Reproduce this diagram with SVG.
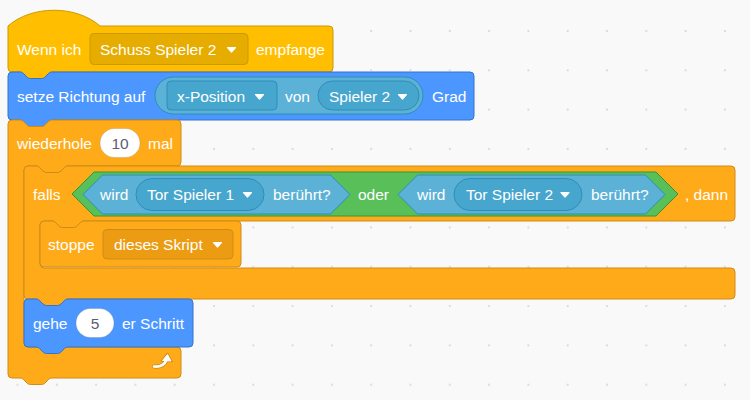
<svg xmlns="http://www.w3.org/2000/svg" width="750" height="400" viewBox="0 0 750 400">
<defs>
<pattern id="grid" x="16.5" y="30" width="39.3" height="39.3" patternUnits="userSpaceOnUse"><rect x="0" y="0" width="2" height="2" fill="#dcdcdc"/></pattern>
<style>
.t{font-family:"Liberation Sans",Arial,Helvetica,sans-serif;font-size:15.5px;fill:#ffffff}
.n{font-family:"Liberation Sans",Arial,Helvetica,sans-serif;font-size:15.5px;fill:#575E75;text-anchor:middle}
.ev{fill:#FFBF00;stroke:#CC9900;stroke-width:1}
.evf{fill:#E6AC00;stroke:#CC9900;stroke-width:1}
.mo{fill:#4C97FF;stroke:#3373CC;stroke-width:1}
.co{fill:#FFAB19;stroke:#CF8B17;stroke-width:1}
.cof{fill:#EC9C13;stroke:#CF8B17;stroke-width:1}
.se{fill:#5CB1D6;stroke:#2E8EB8;stroke-width:1}
.sef{fill:#47A6CE;stroke:#2E8EB8;stroke-width:1}
.op{fill:#59C059;stroke:#389438;stroke-width:1}
.num{fill:#ffffff;stroke:rgba(0,0,0,0.12);stroke-width:1}
.arr{fill:#ffffff;stroke:#ffffff;stroke-width:1.2;stroke-linejoin:round}
</style>
</defs>
<rect width="750" height="400" fill="#F9F9F9"/>
<rect width="750" height="400" fill="url(#grid)"/>
<g id="connectors"></g>

<g id="hat-wenn-ich">
<path class="ev" d="M 8,26 c 24,-21 68,-21 92,0 H 329 a 4,4 0 0 1 4,4 V 68 a 4,4 0 0 1 -4,4 H 52 c -2,0 -3,1 -4,2 l -3,3 c -1,1 -2,1.5 -3.5,1.5 h -11 c -1.5,0 -2.5,-0.5 -3.5,-1.5 l -3,-3 c -1,-1 -2,-2 -4,-2 H 12 a 4,4 0 0 1 -4,-4 Z"/>
<text class="t" x="17" y="54.5">Wenn ich</text>
<rect class="evf" x="90" y="33.5" width="158" height="31" rx="4"/>
<text class="t" x="100" y="54.5">Schuss Spieler 2</text>
<path class="arr" d="M 227.5,47.5 h 8 l -4,4.5 z"/>
<text class="t" x="256" y="54.5">empfange</text>
</g>

<g id="setze-richtung">
<path class="mo" d="M 8,76 a 4,4 0 0 1 4,-4 H 20 c 2,0 3,1 4,2 l 3,3 c 1,1 2,1.5 3.5,1.5 h 11 c 1.5,0 2.5,-0.5 3.5,-1.5 l 3,-3 c 1,-1 2,-2 4,-2 H 470 a 4,4 0 0 1 4,4 V 116 a 4,4 0 0 1 -4,4 H 52 c -2,0 -3,1 -4,2 l -3,3 c -1,1 -2,1.5 -3.5,1.5 h -11 c -1.5,0 -2.5,-0.5 -3.5,-1.5 l -3,-3 c -1,-1 -2,-2 -4,-2 H 12 a 4,4 0 0 1 -4,-4 Z"/>
<text class="t" x="17" y="101.5">setze Richtung auf</text>
<rect class="se" x="155" y="77" width="268" height="37" rx="18.5"/>
<rect class="sef" x="167" y="81" width="110" height="29" rx="4"/>
<text class="t" x="177" y="101.5">x-Position</text>
<path class="arr" d="M 255.5,94.5 h 8 l -4,4.5 z"/>
<text class="t" x="285" y="101.5">von</text>
<rect class="sef" x="318" y="81" width="101" height="29" rx="14.5"/>
<text class="t" x="329" y="101.5">Spieler 2</text>
<path class="arr" d="M 398.5,94.5 h 8 l -4,4.5 z"/>
<text class="t" x="432" y="101.5">Grad</text>
</g>

<g id="wiederhole">
<path class="co" d="M 8,124 a 4,4 0 0 1 4,-4 H 20 c 2,0 3,1 4,2 l 3,3 c 1,1 2,1.5 3.5,1.5 h 11 c 1.5,0 2.5,-0.5 3.5,-1.5 l 3,-3 c 1,-1 2,-2 4,-2 H 177 a 4,4 0 0 1 4,4 V 162 a 4,4 0 0 1 -4,4 H 68 c -2,0 -3,1 -4,2 l -3,3 c -1,1 -2,1.5 -3.5,1.5 h -11 c -1.5,0 -2.5,-0.5 -3.5,-1.5 l -3,-3 c -1,-1 -2,-2 -4,-2 H 28 a 4,4 0 0 0 -4,4 V 343 a 4,4 0 0 0 4,4 H 177 a 4,4 0 0 1 4,4 V 374 a 4,4 0 0 1 -4,4 H 52 c -2,0 -3,1 -4,2 l -3,3 c -1,1 -2,1.5 -3.5,1.5 h -11 c -1.5,0 -2.5,-0.5 -3.5,-1.5 l -3,-3 c -1,-1 -2,-2 -4,-2 H 12 a 4,4 0 0 1 -4,-4 Z"/>
<text class="t" x="17" y="148.5">wiederhole</text>
<rect class="num" x="100" y="128.5" width="40" height="29" rx="14.5"/>
<text class="n" x="120" y="148.5">10</text>
<text class="t" x="148" y="148.5">mal</text>
<path d="M 154,366.5 C 160,367 164.5,365 166.5,360" fill="none" stroke="#CF8B17" stroke-width="4.2" stroke-linecap="round"/>
<path d="M 161.5,361 L 167.5,353.5 L 172,361.5 Z" fill="#CF8B17" stroke="#CF8B17" stroke-width="1.5" stroke-linejoin="round"/>
<path d="M 154,366.5 C 160,367 164.5,365 166.5,360" fill="none" stroke="#ffffff" stroke-width="2.6" stroke-linecap="round"/>
<path d="M 162.5,360.5 L 167.5,354.5 L 171,361 Z" fill="#ffffff" stroke="#ffffff" stroke-width="1" stroke-linejoin="round"/>
</g>

<g id="falls-dann">
<path class="co" d="M 24,170 a 4,4 0 0 1 4,-4 H 36 c 2,0 3,1 4,2 l 3,3 c 1,1 2,1.5 3.5,1.5 h 11 c 1.5,0 2.5,-0.5 3.5,-1.5 l 3,-3 c 1,-1 2,-2 4,-2 H 731 a 4,4 0 0 1 4,4 V 217 a 4,4 0 0 1 -4,4 H 84 c -2,0 -3,1 -4,2 l -3,3 c -1,1 -2,1.5 -3.5,1.5 h -11 c -1.5,0 -2.5,-0.5 -3.5,-1.5 l -3,-3 c -1,-1 -2,-2 -4,-2 H 44 a 4,4 0 0 0 -4,4 V 264 a 4,4 0 0 0 4,4 H 731 a 4,4 0 0 1 4,4 V 295 a 4,4 0 0 1 -4,4 H 68 c -2,0 -3,1 -4,2 l -3,3 c -1,1 -2,1.5 -3.5,1.5 h -11 c -1.5,0 -2.5,-0.5 -3.5,-1.5 l -3,-3 c -1,-1 -2,-2 -4,-2 H 28 a 4,4 0 0 1 -4,-4 Z"/>
<text class="t" x="33" y="199.5">falls</text>
<g id="oder">
<path class="op" d="M 72,194 L 94,172 H 656 L 678,194 L 656,216 H 94 Z"/>
<text class="t" x="358" y="199.5">oder</text>
</g>
<g id="wird-beruehrt-1">
<path class="se" d="M 83,194.5 L 102.5,175 H 330.5 L 350,194.5 L 330.5,214 H 102.5 Z"/>
<text class="t" x="100" y="199.5">wird</text>
<rect class="sef" x="136" y="178.5" width="128" height="32" rx="16"/>
<text class="t" x="147" y="199.5">Tor Spieler 1</text>
<path class="arr" d="M 243.5,192.5 h 8 l -4,4.5 z"/>
<text class="t" x="273" y="199.5">berührt?</text>
</g>
<g id="wird-beruehrt-2">
<path class="se" d="M 398,194.5 L 417.5,175 H 645.5 L 665,194.5 L 645.5,214 H 417.5 Z"/>
<text class="t" x="417" y="199.5">wird</text>
<rect class="sef" x="454" y="178.5" width="128" height="32" rx="16"/>
<text class="t" x="466" y="199.5">Tor Spieler 2</text>
<path class="arr" d="M 561,192.5 h 8 l -4,4.5 z"/>
<text class="t" x="591" y="199.5">berührt?</text>
</g>
<text class="t" x="685" y="199.5">, dann</text>
</g>

<g id="stoppe">
<path class="co" d="M 40,225 a 4,4 0 0 1 4,-4 H 52 c 2,0 3,1 4,2 l 3,3 c 1,1 2,1.5 3.5,1.5 h 11 c 1.5,0 2.5,-0.5 3.5,-1.5 l 3,-3 c 1,-1 2,-2 4,-2 H 237 a 4,4 0 0 1 4,4 V 263 a 4,4 0 0 1 -4,4 H 44 a 4,4 0 0 1 -4,-4 Z"/>
<text class="t" x="48" y="249.5">stoppe</text>
<rect class="cof" x="103" y="229.5" width="130" height="29.5" rx="4"/>
<text class="t" x="114" y="249.5">dieses Skript</text>
<path class="arr" d="M 213.5,242.5 h 8 l -4,4.5 z"/>
</g>

<g id="gehe">
<path class="mo" d="M 24,303 a 4,4 0 0 1 4,-4 H 36 c 2,0 3,1 4,2 l 3,3 c 1,1 2,1.5 3.5,1.5 h 11 c 1.5,0 2.5,-0.5 3.5,-1.5 l 3,-3 c 1,-1 2,-2 4,-2 H 189 a 4,4 0 0 1 4,4 V 343 a 4,4 0 0 1 -4,4 H 68 c -2,0 -3,1 -4,2 l -3,3 c -1,1 -2,1.5 -3.5,1.5 h -11 c -1.5,0 -2.5,-0.5 -3.5,-1.5 l -3,-3 c -1,-1 -2,-2 -4,-2 H 28 a 4,4 0 0 1 -4,-4 Z"/>
<text class="t" x="33" y="328.5">gehe</text>
<rect class="num" x="76" y="308.5" width="38" height="29" rx="14.5"/>
<text class="n" x="95" y="328.5">5</text>
<text class="t" x="122" y="328.5">er Schritt</text>
</g>
</svg>
